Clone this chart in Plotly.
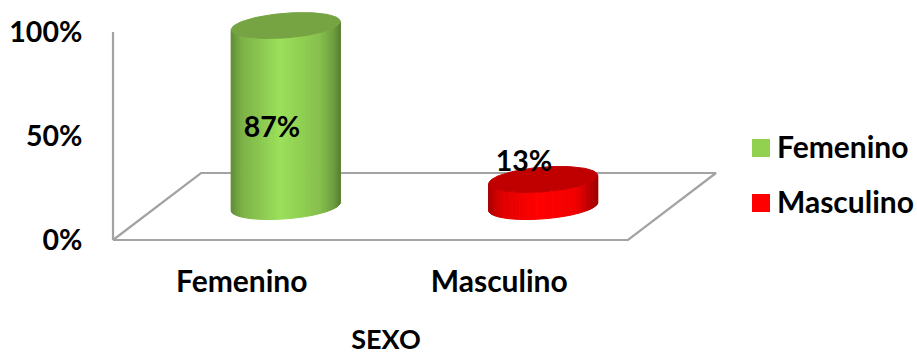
import numpy as np
import plotly.graph_objects as go

# Chart data
categories = ["Femenino", "Masculino"]
values = [87, 13]
value_ticks = [0, 50, 100]
value_tick_labels = ["0%", "50%", "100%"]
axis_title = "SEXO"

# Figure and axis scale (pixels per data unit)
W, H = 917, 354
X0_PX, Y0_PX = 113, 240
PX_PER_CAT = 257.5
PX_PER_PCT = 2.08

# Oblique projection of the floor depth, expressed in axis units
DEPTH_X = 88 / PX_PER_CAT
DEPTH_Y = 67 / PX_PER_PCT

# Cylinder footprint
RADIUS_CAT = 51.7 / PX_PER_CAT
RADIUS_DEPTH = 0.194
CENTER_DEPTH = 0.5

FONT = "Lato, Carlito, Calibri, sans-serif"
GREY = "#a3a3a3"

palettes = {
    "Femenino": {
        "legend": "#92d050",
        "top": "#76a442",
        "stops": [(0, "#618c38"), (0.1, "#7cb147"), (0.45, "#9be05a"),
                  (0.82, "#86bf4d"), (0.94, "#6f9f40"), (1, "#5a8233")],
    },
    "Masculino": {
        "legend": "#ff0000",
        "top": "#c00000",
        "stops": [(0, "#a80000"), (0.12, "#e00000"), (0.45, "#ff0000"),
                  (0.8, "#f20000"), (0.94, "#b80000"), (1, "#a00000")],
    },
}


def shade(stops, u):
    """Interpolate a hex colour along the horizontal lighting profile."""
    pos = [s[0] for s in stops]
    rgb = np.array([[int(s[1][i:i + 2], 16) for i in (1, 3, 5)] for s in stops])
    return "rgb({},{},{})".format(*(int(round(np.interp(u, pos, rgb[:, c]))) for c in range(3)))


def rim(center, t, level):
    """Project a point of the cylinder's circular rim onto the axes."""
    x = center + RADIUS_CAT * np.cos(t) + (CENTER_DEPTH + RADIUS_DEPTH * np.sin(t)) * DEPTH_X
    y = level + (CENTER_DEPTH + RADIUS_DEPTH * np.sin(t)) * DEPTH_Y
    return x, y


def x_from_px(px):
    return (px - X0_PX) / PX_PER_CAT


def y_from_px(py):
    return (Y0_PX - py) / PX_PER_PCT


fig = go.Figure()

# Floor parallelogram and the value wall edge
n_cat = len(categories)
fig.add_trace(go.Scatter(
    x=[0, n_cat, n_cat + DEPTH_X, DEPTH_X, 0],
    y=[0, 0, DEPTH_Y, DEPTH_Y, 0],
    mode="lines", line=dict(color=GREY, width=2.2),
    showlegend=False, hoverinfo="skip",
))
fig.add_trace(go.Scatter(
    x=[0, 0], y=[0, 100], mode="lines", line=dict(color=GREY, width=2.2),
    showlegend=False, hoverinfo="skip",
))

# Cylinders: side strips with horizontal shading, then the top cap
sil = np.arctan2(RADIUS_DEPTH * DEPTH_X * PX_PER_CAT, RADIUS_CAT * PX_PER_CAT)
for i, (cat, val) in enumerate(zip(categories, values)):
    center = i + 0.5
    pal = palettes[cat]
    angles = np.linspace(sil - np.pi, sil, 49)
    x_lo = rim(center, sil - np.pi, 0)[0]
    x_hi = rim(center, sil, 0)[0]
    for a, b in zip(angles[:-1], angles[1:]):
        xa, ya = rim(center, a, 0)
        xb, yb = rim(center, b, 0)
        colour = shade(pal["stops"], ((xa + xb) / 2 - x_lo) / (x_hi - x_lo))
        fig.add_trace(go.Scatter(
            x=[xa, xb, xb, xa, xa],
            y=[ya, yb, yb + val, ya + val, ya],
            mode="lines", fill="toself", fillcolor=colour,
            line=dict(color=colour, width=1),
            showlegend=False, hoverinfo="skip",
        ))
    ts = np.linspace(0, 2 * np.pi, 121)
    xc, yc = rim(center, ts, val)
    fig.add_trace(go.Scatter(
        x=xc, y=yc, mode="lines", fill="toself", fillcolor=pal["top"],
        line=dict(color=pal["top"], width=1),
        showlegend=False, hoverinfo="skip",
    ))

# Data labels
label_offset_x = [0.117, 0.096]
label_y = [52.9, 36.5]
fig.add_trace(go.Scatter(
    x=[i + 0.5 + dx for i, dx in enumerate(label_offset_x)],
    y=label_y,
    mode="text",
    text=[f"{v}%" for v in values],
    textposition="middle center",
    textfont=dict(family=FONT, size=28.5, color="black", weight="bold"),
    showlegend=False, hoverinfo="skip",
))

# Key: one square marker and one text per category
key_marker_px = 761
key_text_px = 775
key_rows_px = [146, 201]
key_marker_rows_px = [148, 203]
key_annotations = []
for cat, row, marker_row in zip(categories, key_rows_px, key_marker_rows_px):
    fig.add_trace(go.Scatter(
        x=[x_from_px(key_marker_px)], y=[y_from_px(marker_row)], mode="markers", name=cat,
        marker=dict(symbol="square", size=18, color=palettes[cat]["legend"], line=dict(width=0)),
        showlegend=False, hoverinfo="name",
    ))
    key_annotations.append(dict(
        text=cat, xref="x", yref="y", x=x_from_px(key_text_px), y=y_from_px(row),
        xanchor="left", yanchor="middle", showarrow=False,
        font=dict(family=FONT, size=30, color="black", weight="bold"),
    ))

# Category axis title, placed under the tick labels
fig.add_trace(go.Scatter(
    x=[x_from_px(386)], y=[y_from_px(342)], mode="text", text=[axis_title],
    textposition="middle center",
    textfont=dict(family=FONT, size=27, color="black", weight="bold"),
    showlegend=False, hoverinfo="skip",
))

fig.update_layout(
    width=W, height=H,
    margin=dict(l=0, r=0, t=0, b=0),
    paper_bgcolor="white", plot_bgcolor="white",
    font=dict(family=FONT, size=28.5, color="black", weight="bold"),
    showlegend=False,
    xaxis=dict(
        range=[-X0_PX / PX_PER_CAT, (W - X0_PX) / PX_PER_CAT],
        tickmode="array", tickvals=[i + 0.5 for i in range(n_cat)], ticktext=categories,
        tickfont=dict(family=FONT, size=30, color="black", weight="bold"),
        ticks="outside", ticklen=15, tickcolor="rgba(0,0,0,0)",
        showgrid=False, zeroline=False, showline=False,
        anchor="free", position=1 - Y0_PX / H,
    ),
    yaxis=dict(
        range=[-(H - Y0_PX) / PX_PER_PCT, Y0_PX / PX_PER_PCT],
        tickmode="array", tickvals=value_ticks, ticktext=value_tick_labels,
        ticks="outside", ticklen=25, tickcolor="rgba(0,0,0,0)",
        showgrid=False, zeroline=False, showline=False,
        anchor="free", position=X0_PX / W,
    ),
    annotations=key_annotations,
)

fig.write_html("out.html")
